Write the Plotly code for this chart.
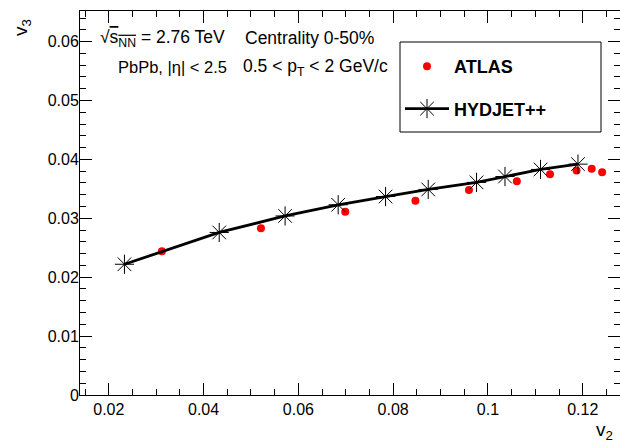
import plotly.graph_objects as go

# ---- data ----
atlas_v2 = [0.0312, 0.0521, 0.0699, 0.0847, 0.0960, 0.1061, 0.1131, 0.1187, 0.1219, 0.1241]
atlas_v3 = [0.0244, 0.0283, 0.0311, 0.0330, 0.0348, 0.0363, 0.0375, 0.0381, 0.0384, 0.0378]

hydjet_v2 = [0.0233, 0.0433, 0.0572, 0.0684, 0.0784, 0.0874, 0.0976, 0.1036, 0.1111, 0.1190]
hydjet_v3 = [0.0222, 0.0276, 0.0304, 0.0323, 0.0337, 0.0349, 0.0361, 0.0371, 0.0383, 0.0392]

x_tickvals = [0.02, 0.04, 0.06, 0.08, 0.10, 0.12]
x_ticktext = ["0.02", "0.04", "0.06", "0.08", "0.1", "0.12"]
y_tickvals = [0, 0.01, 0.02, 0.03, 0.04, 0.05, 0.06]
y_ticktext = ["0", "0.01", "0.02", "0.03", "0.04", "0.05", "0.06"]

FONT = "Liberation Sans, Arial, sans-serif"
W, H = 620, 442
ML, MR, MT, MB = 80, 0, 11, 47
PW, PH = W - ML - MR, H - MT - MB


def px(x):
    return (x - ML) / PW


def py(y):
    return (H - MB - y) / PH


fig = go.Figure()

fig.add_trace(go.Scatter(
    x=atlas_v2, y=atlas_v3, mode="markers", name="ATLAS",
    legendgroup="a",
    marker=dict(symbol="circle", size=8, color="#ff0000", line=dict(width=0)),
))
fig.add_trace(go.Scatter(
    x=hydjet_v2, y=hydjet_v3, mode="lines+markers", name="HYDJET++",
    legendgroup="b",
    line=dict(color="black", width=2.8),
    marker=dict(symbol="asterisk-open", size=16, color="black",
                line=dict(color="black", width=1)),
))

axis_common = dict(
    showline=True, linecolor="black", linewidth=1, mirror="allticks",
    ticks="inside", ticklen=12, tickwidth=1, tickcolor="black",
    showgrid=False, zeroline=False,
    tickfont=dict(family=FONT, size=16, color="black"),
)

fig.update_xaxes(
    range=[0.01392, 0.12787], tickmode="array",
    tickvals=x_tickvals, ticktext=x_ticktext,
    minor=dict(ticks="inside", ticklen=6, tickwidth=1, tickcolor="black", dtick=0.005, showgrid=False),
    **axis_common,
)
fig.update_yaxes(
    range=[0, 0.0652], tickmode="array",
    tickvals=y_tickvals, ticktext=y_ticktext,
    minor=dict(ticks="inside", ticklen=6, tickwidth=1, tickcolor="black", dtick=0.002, showgrid=False),
    ticklabelstandoff=-3,
    **axis_common,
)

TS = 17.5
annots = [
    dict(x=px(98), y=py(38), xanchor="left", yanchor="middle",
         text="√<span style='text-decoration:overline'>s<sub>NN</sub></span> = 2.76 TeV", font_size=TS),
    dict(x=px(243), y=py(38), xanchor="left", yanchor="middle",
         text="Centrality 0-50%", font_size=TS),
    dict(x=px(116), y=py(67), xanchor="left", yanchor="middle",
         text="PbPb, |η| < 2.5", font_size=16.5),
    dict(x=px(241), y=py(67), xanchor="left", yanchor="middle",
         text="0.5 < p<sub>T</sub> < 2 GeV/c", font_size=TS),
    dict(x=px(22), y=py(28), xanchor="center", yanchor="middle", textangle=-90,
         text="v<sub>3</sub>", font_size=19),
    dict(x=px(604), y=py(431), xanchor="center", yanchor="middle",
         text="v<sub>2</sub>", font_size=19),
]
for a in annots:
    fs = a.pop("font_size")
    fig.add_annotation(xref="paper", yref="paper", showarrow=False,
                       font=dict(family=FONT, size=fs, color="black"), **a)

# legend frame
fig.add_shape(type="rect", xref="paper", yref="paper",
              x0=px(400), x1=px(601), y0=py(132), y1=py(42),
              line=dict(color="black", width=1), fillcolor="rgba(0,0,0,0)")

fig.update_layout(
    width=W, height=H,
    margin=dict(l=ML, r=MR, t=MT, b=MB),
    paper_bgcolor="white", plot_bgcolor="white",
    showlegend=True,
    legend=dict(
        x=px(400), y=py(48), xanchor="left", yanchor="top",
        bgcolor="rgba(0,0,0,0)", borderwidth=0,
        font=dict(family=FONT, size=18, color="black", weight="bold"),
        tracegroupgap=16, itemwidth=44,
    ),
    font=dict(family=FONT, color="black"),
)

fig.write_html("out.html", config={"displayModeBar": False},
               post_script="document.body.style.margin='0px';")
